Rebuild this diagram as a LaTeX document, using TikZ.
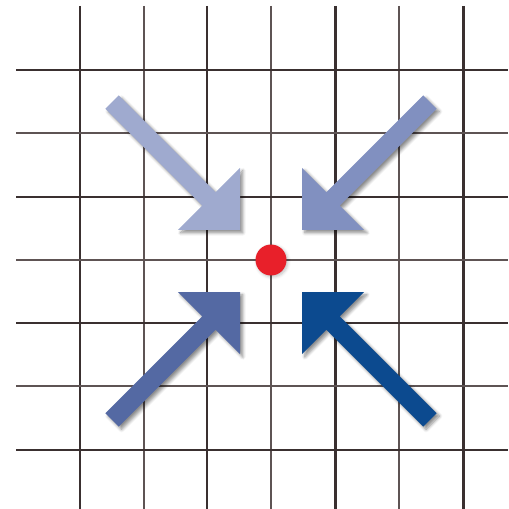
\documentclass[tikz,border=0pt]{standalone}
\usetikzlibrary{shadows.blur}

\definecolor{gridmajor}{HTML}{3A3030}
\definecolor{gridminor}{HTML}{5E5454}
\definecolor{arrowNW}{HTML}{9FAACF}
\definecolor{arrowNE}{HTML}{8190C0}
\definecolor{arrowSW}{HTML}{5469A3}
\definecolor{arrowSE}{HTML}{0C4A8F}
\definecolor{dotred}{HTML}{E8202A}

\begin{document}
\begin{tikzpicture}[
    x=0.02cm, y=-0.02cm,
    major/.style = {draw=gridmajor, line width=1.7pt},
    minor/.style = {draw=gridminor, line width=1.35pt},
    fatarrow/.style = {blur shadow={shadow xshift=1.6pt, shadow yshift=-1.6pt,
                       shadow blur steps=6, shadow opacity=45}},
    dot/.style = {circle, fill=dotred, minimum size=0.62cm, inner sep=0pt,
                  blur shadow={shadow xshift=0.8pt, shadow yshift=-0.8pt,
                       shadow blur steps=4, shadow opacity=25}}
]
\useasboundingbox (0,0) rectangle (508,509);

%% ── Rejilla ─────────────────────────────────────────────────────────────────
\foreach \x in {80,207,335,463}
    \draw[major] (\x,6) -- (\x,509);
\foreach \x in {144,271,399}
    \draw[minor] (\x,6) -- (\x,509);
\foreach \y in {70,197,323,450}
    \draw[major] (16,\y) -- (508,\y);
\foreach \y in {133,260,386}
    \draw[minor] (16,\y) -- (508,\y);

%% ── Flechas hacia el centro ─────────────────────────────────────────────────
\foreach \px/\py/\ang/\col in {240/230/-45/arrowNW, 302/230/-135/arrowNE,
                              240/292/45/arrowSW, 302/292/135/arrowSE}
{
  \begin{scope}[shift={(\px,\py)}, rotate=\ang]
    \fill[\col, fatarrow] (0,0) -- (-44,44) -- (-44,9.5) -- (-181,9.5)
        -- (-181,-9.5) -- (-44,-9.5) -- (-44,-44) -- cycle;
  \end{scope}
}

%% ── Punto central ───────────────────────────────────────────────────────────
\node[dot] (centre) at (271,260) {};

\end{tikzpicture}
\end{document}
